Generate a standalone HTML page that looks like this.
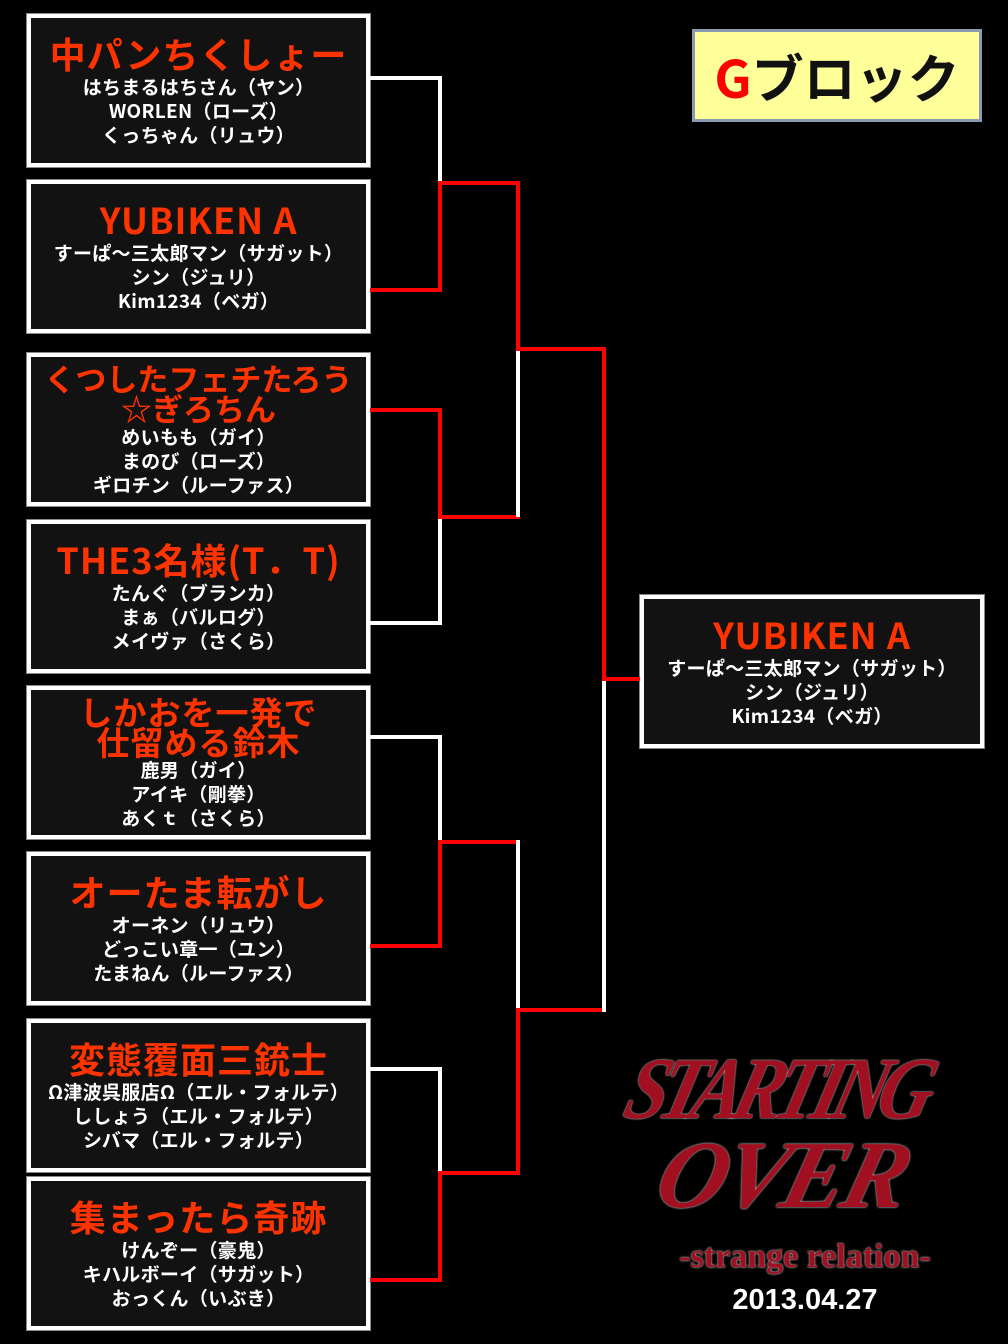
<!DOCTYPE html>
<html><head><meta charset="utf-8"><style>
*{margin:0;padding:0;box-sizing:border-box}
body{width:1008px;height:1344px;background:#000;position:relative;overflow:hidden;font-family:"Liberation Sans","Noto Sans CJK JP",sans-serif}
.b{position:absolute;left:27px;width:343px;height:153px;border:4px solid #fff;outline:1px solid #888;background:#121212;display:flex;flex-direction:column;align-items:center;justify-content:center;text-align:center;color:#fff;font-weight:bold}
.t{color:#ff3300;font-size:36px;line-height:36px;font-family:"Noto Sans CJK JP",sans-serif;font-weight:bold;margin-bottom:4px;white-space:nowrap;letter-spacing:1px}
.m{font-size:19px;line-height:24px;white-space:nowrap;font-family:"Noto Sans CJK JP",sans-serif;font-weight:bold;letter-spacing:0.3px}
.l{position:absolute}
.w{background:#fff}.r{background:#f00}
</style></head><body>
<div class="b" style="top:14px"><div class="t">中パンちくしょー</div><div class="m">はちまるはちさん（ヤン）<br>WORLEN（ローズ）<br>くっちゃん（リュウ）</div></div>
<div class="b" style="top:180px"><div class="t">YUBIKEN A</div><div class="m">すーぱ～三太郎マン（サガット）<br>シン（ジュリ）<br>Kim1234（ベガ）</div></div>
<div class="b" style="top:353px"><div class="t" style="line-height:30px;font-size:31px;letter-spacing:0;margin-bottom:2px">くつしたフェチたろう<br>☆ぎろちん</div><div class="m">めいもも（ガイ）<br>まのび（ローズ）<br>ギロチン（ルーファス）</div></div>
<div class="b" style="top:520px"><div class="t">THE3名様(T．T)</div><div class="m">たんぐ（ブランカ）<br>まぁ（バルログ）<br>メイヴァ（さくら）</div></div>
<div class="b" style="top:686px"><div class="t" style="line-height:30px;font-size:33px;margin-bottom:2px">しかおを一発で<br>仕留める鈴木</div><div class="m">鹿男（ガイ）<br>アイキ（剛拳）<br>あくｔ（さくら）</div></div>
<div class="b" style="top:852px"><div class="t">オーたま転がし</div><div class="m">オーネン（リュウ）<br>どっこい章一（ユン）<br>たまねん（ルーファス）</div></div>
<div class="b" style="top:1019px"><div class="t">変態覆面三銃士</div><div class="m">Ω津波呉服店Ω（エル・フォルテ）<br>ししょう（エル・フォルテ）<br>シバマ（エル・フォルテ）</div></div>
<div class="b" style="top:1177px"><div class="t">集まったら奇跡</div><div class="m">けんぞー（豪鬼）<br>キハルボーイ（サガット）<br>おっくん（いぶき）</div></div>
<div class="b" style="top:595px;left:640px;width:344px"><div class="t">YUBIKEN A</div><div class="m">すーぱ～三太郎マン（サガット）<br>シン（ジュリ）<br>Kim1234（ベガ）</div></div>

<div class="l w" style="left:370px;top:76px;width:72px;height:4px"></div>
<div class="l w" style="left:438px;top:76px;width:4px;height:107px"></div>
<div class="l r" style="left:370px;top:288px;width:72px;height:4px"></div>
<div class="l r" style="left:438px;top:181px;width:4px;height:111px"></div>
<div class="l r" style="left:370px;top:408px;width:72px;height:4px"></div>
<div class="l r" style="left:438px;top:408px;width:4px;height:111px"></div>
<div class="l w" style="left:370px;top:621px;width:72px;height:4px"></div>
<div class="l w" style="left:438px;top:517px;width:4px;height:108px"></div>
<div class="l w" style="left:370px;top:735px;width:72px;height:4px"></div>
<div class="l w" style="left:438px;top:735px;width:4px;height:107px"></div>
<div class="l r" style="left:370px;top:944px;width:72px;height:4px"></div>
<div class="l r" style="left:438px;top:840px;width:4px;height:108px"></div>
<div class="l w" style="left:370px;top:1067px;width:72px;height:4px"></div>
<div class="l w" style="left:438px;top:1067px;width:4px;height:106px"></div>
<div class="l r" style="left:370px;top:1278px;width:72px;height:4px"></div>
<div class="l r" style="left:438px;top:1171px;width:4px;height:111px"></div>
<div class="l r" style="left:438px;top:181px;width:82px;height:4px"></div>
<div class="l r" style="left:516px;top:181px;width:4px;height:170px"></div>
<div class="l r" style="left:438px;top:515px;width:82px;height:4px"></div>
<div class="l w" style="left:516px;top:351px;width:4px;height:166px"></div>
<div class="l r" style="left:438px;top:840px;width:82px;height:4px"></div>
<div class="l w" style="left:516px;top:840px;width:4px;height:170px"></div>
<div class="l r" style="left:438px;top:1171px;width:82px;height:4px"></div>
<div class="l r" style="left:516px;top:1008px;width:4px;height:167px"></div>
<div class="l r" style="left:516px;top:347px;width:90px;height:4px"></div>
<div class="l r" style="left:602px;top:347px;width:4px;height:334px"></div>
<div class="l r" style="left:516px;top:1008px;width:90px;height:4px"></div>
<div class="l w" style="left:602px;top:681px;width:4px;height:331px"></div>
<div class="l r" style="left:602px;top:677px;width:38px;height:4px"></div>

<div style="position:absolute;left:692px;top:29px;width:290px;height:93px;background:#ffff99;border:3px solid #8a9ab0;display:flex;align-items:center;justify-content:center;font-family:'Noto Sans CJK JP',sans-serif;font-weight:bold;font-size:52px;color:#111"><span style="color:#f00">G</span>ブロック</div>

<div style="position:absolute;left:620px;top:1045px;width:380px;height:200px;font-family:'Liberation Serif',serif;font-style:italic;font-weight:bold;color:#a01020;text-shadow:0 0 2px #fff;line-height:90px">
<div style="font-size:88px;letter-spacing:-10px;transform:skewX(-15deg) scaleX(0.85);transform-origin:left;padding-left:10px;white-space:nowrap">STARTING</div>
<div style="font-size:96px;letter-spacing:-4px;transform:skewX(-15deg);padding-left:40px;margin-top:-5px">OVER</div>
</div>
<div style="position:absolute;left:660px;top:1238px;width:290px;text-align:center;font-family:'Liberation Serif',serif;font-weight:bold;font-size:34px;color:#a01020;text-shadow:0 0 2px #fff">-strange relation-</div>
<div style="position:absolute;left:700px;top:1284px;width:210px;text-align:center;font-family:'Liberation Sans',sans-serif;font-weight:bold;font-size:29px;color:#fff">2013.04.27</div>
</body></html>
